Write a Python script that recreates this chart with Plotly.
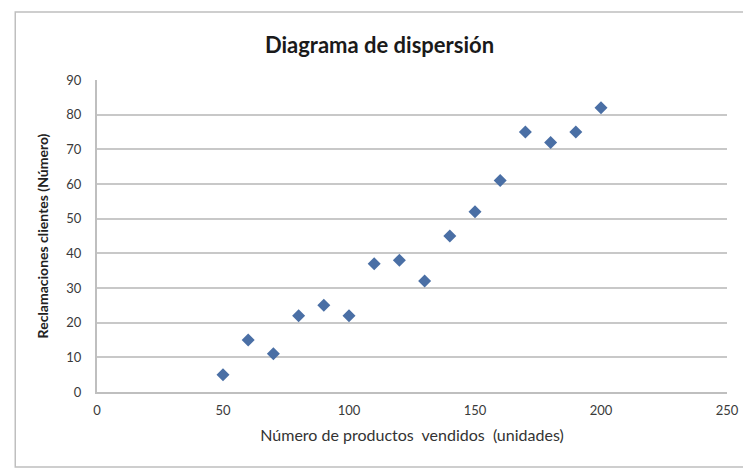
import plotly.graph_objects as go

productos = [50, 60, 70, 80, 90, 100, 110, 120, 130, 140, 150, 160, 170, 180, 190, 200]
reclamaciones = [5, 15, 11, 22, 25, 22, 37, 38, 32, 45, 52, 61, 75, 72, 75, 82]

x_ticks = [0, 50, 100, 150, 200, 250]
y_ticks = [0, 10, 20, 30, 40, 50, 60, 70, 80, 90]

FONT = "Lato, 'Open Sans', sans-serif"

fig = go.Figure()
fig.add_trace(go.Scatter(
    x=productos, y=reclamaciones, mode="markers",
    marker=dict(symbol="diamond", size=10, color="#4A6FA5",
                line=dict(width=0)),
    showlegend=False,
))

fig.update_layout(
    width=743, height=463,
    paper_bgcolor="white", plot_bgcolor="white",
    margin=dict(l=89, r=22, t=72, b=79),
    title=dict(text="<b>Diagrama de dispersión</b>", x=0.5, xanchor="center",
               y=1 - 37 / 463, yanchor="middle",
               font=dict(family=FONT, size=22, color="#1a1a1a")),
    font=dict(family=FONT, size=13, color="#3a3a3a"),
    xaxis=dict(range=[0, 250], tickvals=x_ticks, showgrid=False,
               showline=True, linecolor="#BFBFBF", linewidth=2,
               ticks="outside", tickcolor="rgba(0,0,0,0)", ticklen=5,
               zeroline=False,
               title=dict(text="Número de productos  vendidos  (unidades)",
                          font=dict(size=16, color="#333333"), standoff=13)),
    yaxis=dict(range=[0, 90], tickvals=y_ticks, showgrid=True,
               gridcolor="#C8C8C8", gridwidth=2,
               showline=True, linecolor="#BFBFBF", linewidth=2,
               ticks="outside", tickcolor="rgba(0,0,0,0)", ticklen=11,
               zeroline=False,
               title=dict(text="<b>Reclamaciones clientes (Número)</b>",
                          font=dict(size=14, color="#222222"), standoff=14)),
    shapes=[dict(type="rect", xref="paper", yref="paper",
                 x0=-82 / 632, x1=1.1, y0=-75 / 312, y1=1 + 68 / 312,
                 line=dict(color="#BFBFBF", width=1.5), fillcolor="rgba(0,0,0,0)",
                 layer="below")],
)

fig.write_html("out.html")
